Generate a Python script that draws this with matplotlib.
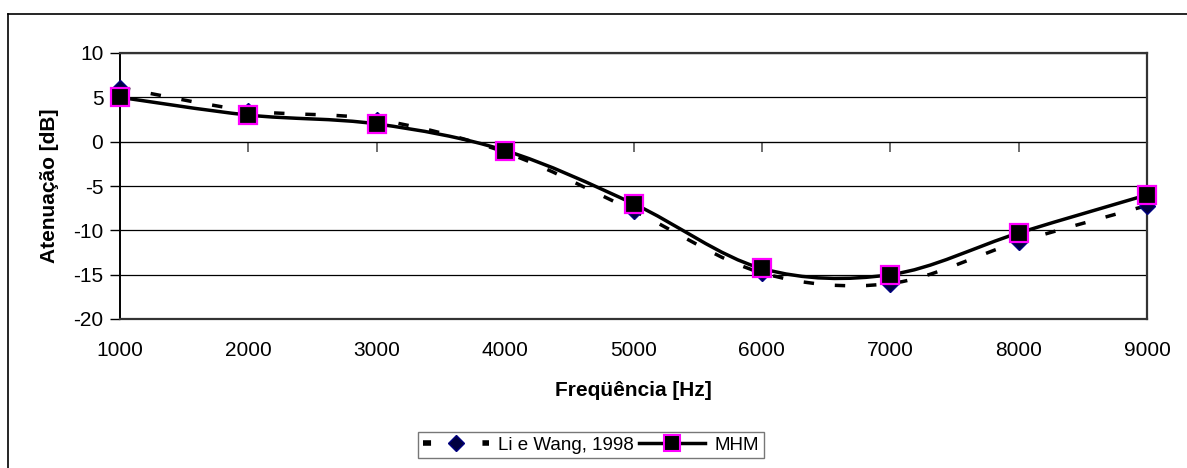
import numpy as np
import matplotlib
matplotlib.use("Agg")
import matplotlib.pyplot as plt
from matplotlib.path import Path
from matplotlib.patches import PathPatch
from matplotlib.lines import Line2D

plt.rcParams['font.family'] = ['Liberation Sans', 'DejaVu Sans']
plt.rcParams['lines.scale_dashes'] = False
plt.rcParams['axes.unicode_minus'] = False

freq = [1000, 2000, 3000, 4000, 5000, 6000, 7000, 8000, 9000]
li_wang = [6.1, 3.5, 2.5, -1.2, -7.8, -14.8, -16.0, -11.3, -7.2]
mhm = [5.0, 3.0, 2.0, -1.0, -7.0, -14.3, -15.0, -10.3, -6.0]
yticks = [-20, -15, -10, -5, 0, 5, 10]
label_li = "Li e Wang, 1998"
label_mhm = "MHM"


def smooth_path(x, y):
    """Cubic Bezier path through the points (spreadsheet-style smoothed line)."""
    pts = np.column_stack([x, y]).astype(float)
    ext = np.vstack([pts[0], pts, pts[-1]])
    verts = [tuple(pts[0])]
    codes = [Path.MOVETO]
    for i in range(len(pts) - 1):
        p0, p1, p2, p3 = ext[i], ext[i + 1], ext[i + 2], ext[i + 3]
        c1 = p1 + (p2 - p0) / 6.0
        c2 = p2 - (p3 - p1) / 6.0
        verts += [tuple(c1), tuple(c2), tuple(p2)]
        codes += [Path.CURVE4] * 3
    return Path(verts, codes)


W, H = 1187, 468
fig = plt.figure(figsize=(W / 100, H / 100), dpi=100)

# outer chart border (left and top edges)
fig.add_artist(Line2D([7.5 / W, 7.5 / W], [0, 1 - 14 / H], color='black', lw=1.2,
                      transform=fig.transFigure))
fig.add_artist(Line2D([7.5 / W, 1], [1 - 14 / H, 1 - 14 / H], color='black', lw=1.2,
                      transform=fig.transFigure))

ax = fig.add_axes([120 / W, (H - 319) / H, 1027 / W, 266 / H])
ax.set_xlim(1000, 9000)
ax.set_ylim(-20, 10)

for yv in yticks:
    ax.axhline(yv, color='black', lw=0.9, zorder=1)

# smoothed lines
p_li = PathPatch(smooth_path(freq, li_wang), fill=False, edgecolor='black', lw=2.5,
                 linestyle=(0, (7.5, 15)), zorder=3, capstyle='butt')
ax.add_patch(p_li)
p_mhm = PathPatch(smooth_path(freq, mhm), fill=False, edgecolor='black', lw=2.5, zorder=4)
ax.add_patch(p_mhm)

# markers
ax.plot(freq, li_wang, linestyle='none', marker='D', markersize=8.5,
        markerfacecolor='#000040', markeredgecolor='#000080', markeredgewidth=1.0,
        zorder=5, clip_on=False)
ax.plot(freq, mhm, linestyle='none', marker='s', markersize=13.5,
        markerfacecolor='black', markeredgecolor='#FF00FF', markeredgewidth=1.6,
        zorder=6, clip_on=False)

# spines
for s in ['top', 'right', 'bottom']:
    ax.spines[s].set_color('#333333')
    ax.spines[s].set_linewidth(1.6)
ax.spines['left'].set_color('black')
ax.spines['left'].set_linewidth(1.4)

ax.set_yticks(yticks)
ax.set_xticks(freq)
ax.tick_params(axis='y', direction='out', length=7, width=1, labelsize=15, pad=5)
ax.tick_params(axis='x', length=0, labelsize=15, pad=16)

# category axis crossing at zero
sec = ax.secondary_xaxis(20 / 30)
sec.set_xticks(freq)
sec.xaxis.set_ticks_position('bottom')
sec.tick_params(axis='x', direction='out', length=7, width=1.2, color='#555555',
                labelbottom=False, labeltop=False)
sec.spines['bottom'].set_color('#666666')
sec.spines['bottom'].set_linewidth(1.4)

ax.set_xlabel('Freqüência [Hz]', fontsize=15, fontweight='bold', labelpad=15)
ax.set_ylabel('Atenuação [dB]', fontsize=15, fontweight='bold', labelpad=10)

# legend handles: short dashes either side of the diamond
h_li = Line2D([], [], color='black', lw=4, linestyle=(0, (5.8, 37)), marker='D',
              markersize=8.5, markerfacecolor='#000040', markeredgecolor='#000080',
              dash_capstyle='butt')
h_mhm = Line2D([], [], color='black', lw=2.5, marker='s', markersize=11,
               markerfacecolor='black', markeredgecolor='#FF00FF', markeredgewidth=1.5)
leg = fig.legend([h_li, h_mhm], [label_li, label_mhm], loc='center',
                 bbox_to_anchor=(591 / W, 1 - 445 / H), ncol=2, frameon=True,
                 fancybox=False, edgecolor='#555555', fontsize=13.5, handlelength=3.5,
                 handletextpad=0.5, columnspacing=0.3, borderpad=0.25,
                 borderaxespad=0)
leg.get_frame().set_linewidth(1.0)

fig.savefig('out.png', dpi=100)
